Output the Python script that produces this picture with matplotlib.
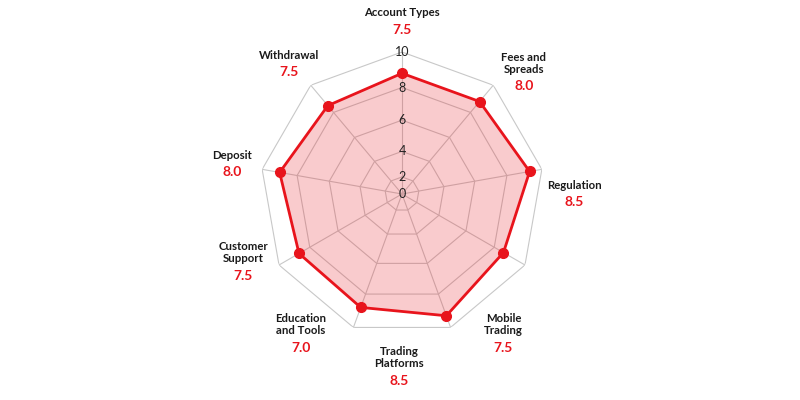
import numpy as np
import matplotlib
matplotlib.use("Agg")
import matplotlib.pyplot as plt
from matplotlib.offsetbox import TextArea, VPacker, AnnotationBbox

# categories clockwise from the top
categories = ["Account Types", "Fees and\nSpreads", "Regulation", "Mobile\nTrading",
              "Trading\nPlatforms", "Education\nand Tools", "Customer\nSupport",
              "Deposit", "Withdrawal"]
# scores printed under each name
scores = [7.5, 8.0, 8.5, 7.5, 8.5, 7.0, 7.5, 8.0, 7.5]
# where the markers actually sit on the 0-10 radial axis
plotted = [8.8, 8.8, 9.3, 8.6, 9.3, 8.8, 8.7, 9.0, 8.5]
ticks = [0, 2, 4, 6, 8, 10]
# ring spacing of the radial scale (fraction of the outer radius)
ring_frac = [0, 0.12, 0.30, 0.52, 0.75, 1.0]

RED = "#e8141c"
GRID = "#c8c8c8"
plt.rcParams["font.family"] = ["Lato", "DejaVu Sans"]


def fwd(v):
    return np.interp(v, ticks, ring_frac)


def inv(p):
    return np.interp(p, ring_frac, ticks)


fig = plt.figure(figsize=(8, 4), dpi=100)
ax = fig.add_axes([0.325, 0.16, 0.355, 0.71], projection="polar")
ax.set_theta_zero_location("N")
ax.set_theta_direction(-1)
ax.set_rscale("function", functions=(fwd, inv))
ax.set_rlim(0, 10)
ax.grid(False)
ax.set_xticks([])
ax.set_yticks([])
ax.spines["polar"].set_visible(False)
ax.patch.set_alpha(0)

n = len(categories)
theta = np.linspace(0, 2 * np.pi, n, endpoint=False)
theta_c = np.append(theta, theta[0])

# polygon grid and spokes
for v in ticks[1:]:
    ax.plot(theta_c, [v] * (n + 1), color=GRID, lw=0.8, zorder=1)
for t in theta:
    ax.plot([t, t], [0, 10], color=GRID, lw=0.8, zorder=1)

vals = np.append(plotted, plotted[0])
ax.fill(theta_c, vals, color=RED, alpha=0.22, lw=0, zorder=2)
ax.plot(theta_c, vals, color=RED, lw=2, zorder=3)
ax.plot(theta, plotted, "o", color=RED, ms=7, zorder=4)

for v in ticks:
    ax.text(0, v, str(v), ha="center", va="center", fontsize=9,
            color="#222222", zorder=5)

# label blocks: direction (deg, clockwise from top) and distance in axes fraction
label_deg = [0, 45, 90, 144, 181, 216, 247, 280, 319]
d = 0.607
for a, name, s in zip(np.radians(label_deg), categories, scores):
    name_box = TextArea(name, textprops=dict(fontsize=8.2, fontweight="bold",
                                             color="#1a1a1a", ha="center",
                                             multialignment="center",
                                             linespacing=1.1))
    score_box = TextArea(f"{s:.1f}", textprops=dict(fontsize=10, color=RED,
                                                    fontweight="bold",
                                                    ha="center"))
    pack = VPacker(children=[name_box, score_box], align="center", pad=0, sep=4)
    ab = AnnotationBbox(pack, (0.5, 0.5), xycoords="axes fraction",
                        xybox=(0.5 + d * np.sin(a), 0.5 + d * np.cos(a)),
                        boxcoords="axes fraction", frameon=False,
                        box_alignment=(0.5, 0.5), annotation_clip=False)
    ax.add_artist(ab)

fig.savefig("out.png", dpi=100, facecolor="white")
